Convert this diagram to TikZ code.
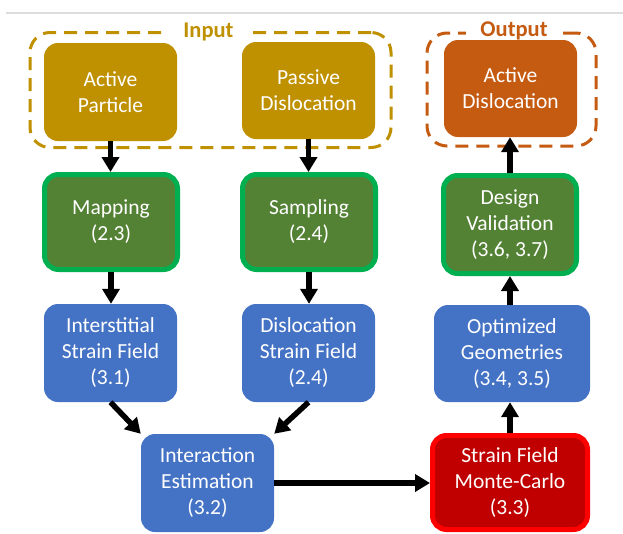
\documentclass[tikz,border=0pt]{standalone}
\usepackage{fontspec}
\setmainfont{Carlito}
\usetikzlibrary{arrows.meta}
\definecolor{goldc}{HTML}{BF9000}
\definecolor{orangec}{HTML}{C55A11}
\definecolor{greenfill}{HTML}{548235}
\definecolor{greenline}{HTML}{00B050}
\definecolor{bluec}{HTML}{4472C4}
\definecolor{redfill}{HTML}{C00000}
\definecolor{redline}{HTML}{FF0000}
\definecolor{rulegray}{HTML}{DCDCDC}
\tikzset{
  box/.style={rectangle, rounded corners=14pt, inner sep=0pt, text=white, align=center,
    font=\fontsize{21.5}{26}\selectfont, minimum width=133pt, minimum height=98pt},
  goldbox/.style={box, fill=goldc},
  orangebox/.style={box, fill=orangec},
  greenbox/.style={box, fill=greenfill, draw=greenline, line width=5pt, minimum height=95pt},
  bluebox/.style={box, fill=bluec},
  redbox/.style={box, fill=redfill, draw=redline, line width=5pt},
  arr/.style={line width=5.5pt, -{Triangle[width=17pt,length=15pt]}},
  groupbox/.style={rectangle, draw, dash pattern=on 13pt off 8pt, line width=3pt, rounded corners=20pt, inner sep=0pt},
  grouplabel/.style={font=\bfseries\fontsize{22.5}{26}\selectfont, fill=white, inner xsep=14pt, inner ysep=0pt}
}
\begin{document}
\begin{tikzpicture}[x=1pt,y=-1pt]
\useasboundingbox (0,0) rectangle (623,533);
\coordinate (r1) at (6,13);
\coordinate (r2) at (623,13);
\draw[rulegray, line width=1.5pt] (r1) -- (r2);

% groups
\node[groupbox, draw=goldc, minimum width=361pt, minimum height=115pt] (ingroup) at (210.5,90) {};
\node[groupbox, draw=orangec, minimum width=169pt, minimum height=113pt] (outgroup) at (511.5,89.5) {};
\node[grouplabel, text=goldc] (inlabel) at (208.5,32) {Input};
\node[grouplabel, text=orangec] (outlabel) at (514,31) {Output};

% boxes
\node[goldbox, minimum height=98pt] (ap) at (110.5,92) {Active\\Particle};
\node[goldbox, minimum height=97pt] (pd) at (308.5,90.5) {Passive\\Dislocation};
\node[orangebox, minimum height=97pt] (ad) at (510.5,88.5) {Active\\Dislocation};

\node[greenbox] (map) at (111,222) {Mapping\\(2.3)};
\node[greenbox] (samp) at (309,222) {Sampling\\(2.4)};
\node[greenbox, minimum height=98pt] (dv) at (510,224.5) {Design\\Validation\\(3.6, 3.7)};

\node[bluebox] (isf) at (110.5,353) {Interstitial\\Strain Field\\(3.1)};
\node[bluebox] (dsf) at (308.5,353) {Dislocation\\Strain Field\\(2.4)};
\node[bluebox, minimum width=156pt, minimum height=97pt] (og) at (512,353.5) {Optimized\\Geometries\\(3.4, 3.5)};

\node[bluebox] (ie) at (207.5,483) {Interaction\\Estimation\\(3.2)};
\node[redbox, minimum width=155pt, minimum height=94pt] (mc) at (510,482.5) {Strain Field\\Monte-Carlo\\(3.3)};

% arrows
\draw[arr] (ap.south) -- (ap.south |- map.north);
\draw[arr] (pd.south) -- (pd.south |- samp.north);
\draw[arr] (map.south) -- (map.south |- isf.north);
\draw[arr] (samp.south) -- (samp.south |- dsf.north);
\draw[arr] (isf.south) -- (ie.north west);
\draw[arr] (dsf.south) -- (ie.north east);
\draw[arr] (ie.east) -- (ie.east -| mc.west);
\draw[arr] (mc.north) -- (mc.north |- og.south);
\draw[arr] (og.north -| dv.south) -- (dv.south);
\draw[arr] (dv.north) -- (dv.north |- ad.south);
\end{tikzpicture}
\end{document}
